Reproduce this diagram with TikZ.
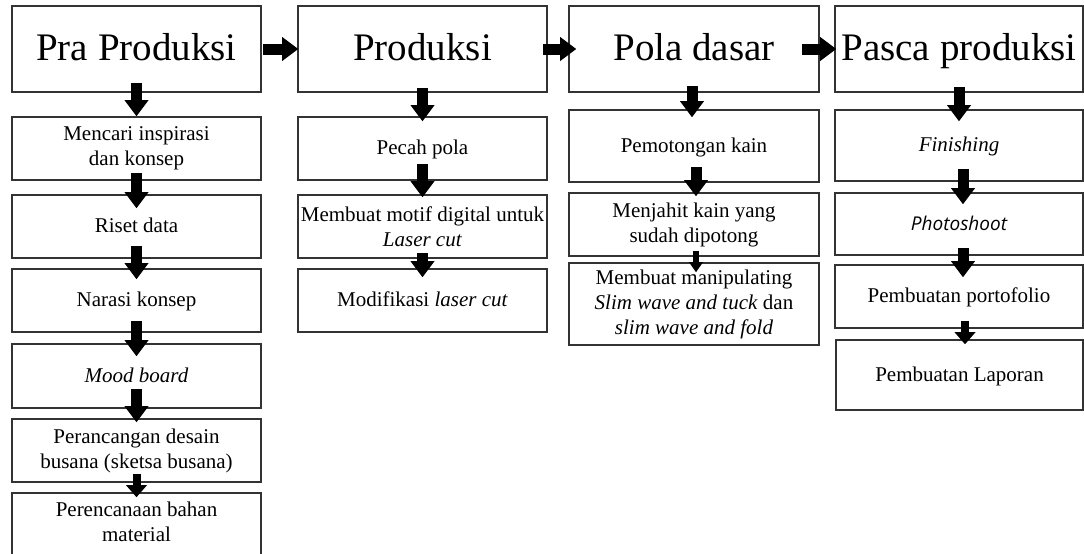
\documentclass[tikz,border=0pt]{standalone}
\usepackage{fontspec}
\setmainfont{Liberation Serif}
\newfontfamily\psans{Open Sans}
\usetikzlibrary{arrows.meta}
\begin{document}
\begin{tikzpicture}[x=1pt,y=-1pt,
  hd/.style={draw=black!80,line width=1.6pt,inner sep=0pt,text height=27pt,text depth=5pt,font=\fontsize{39}{44}\selectfont},
  sb/.style={draw=black!80,line width=1.6pt,inner sep=0pt,align=center,font=\fontsize{21}{25}\selectfont},
  one/.style={text height=15pt,text depth=3pt},
  tx/.style={inner sep=0pt,align=center,font=\fontsize{21}{25}\selectfont},
  barrow/.style={line width=11pt,-{Triangle[width=24pt,length=16pt,line width=0pt]}},
  marrow/.style={line width=8pt,-{Triangle[width=21pt,length=12pt,line width=0pt]}},
  sarrow/.style={line width=5.5pt,-{Triangle[width=14pt,length=10pt,line width=0pt]}}]
\useasboundingbox (0,0) rectangle (1084,554);
\fill[white] (0,0) rectangle (1084,554);
\clip (0,0) rectangle (1084,554);
% headers
\node[hd,minimum width=249,minimum height=86] (h1) at (136.5,49) {Pra Produksi};
\node[hd,minimum width=249,minimum height=86] (h2) at (422.5,49) {Produksi};
\node[hd,minimum width=250,minimum height=86] (h3) at (694,49) {Pola dasar};
\node[hd,minimum width=248,minimum height=86] (h4) at (959,49) {Pasca produksi};
% column 1
\node[sb,minimum width=249,minimum height=63] (c1b1) at (136.5,148.5) {Mencari inspirasi\\ dan konsep};
\node[sb,one,minimum width=249,minimum height=63] (c1b2) at (136.5,226.5) {Riset data};
\node[sb,one,minimum width=249,minimum height=63] (c1b3) at (136.5,300.5) {Narasi konsep};
\node[sb,one,minimum width=249,minimum height=64] (c1b4) at (136.5,376) {\textit{Mood board}};
\node[sb,minimum width=249,minimum height=63] (c1b5) at (136.5,450.5) {Perancangan desain\\busana (sketsa busana)};
\node[sb,minimum width=249,minimum height=100] (c1b6) at (136.5,543) {};
\node[tx] (c1b6t) at (136.5,522) {Perencanaan bahan\\material};
% column 2
\node[sb,one,minimum width=249,minimum height=63] (c2b1) at (422.5,148.5) {Pecah pola};
\node[sb,minimum width=249,minimum height=63] (c2b2) at (422.5,226.5) {Membuat motif digital untuk\\\textit{Laser cut}};
\node[sb,one,minimum width=249,minimum height=63] (c2b3) at (422.5,300.5) {Modifikasi \textit{laser cut}};
% column 3
\node[sb,one,minimum width=250,minimum height=72] (c3b1) at (694,146) {Pemotongan kain};
\node[sb,minimum width=250,minimum height=63] (c3b2) at (694,224.5) {Menjahit kain yang\\sudah dipotong};
\node[sb,minimum width=250,minimum height=82] (c3b3) at (694,304) {Membuat manipulating\\\textit{Slim wave and tuck} dan\\\textit{slim wave and fold}};
% column 4
\node[sb,one,minimum width=248,minimum height=71] (c4b1) at (959,145.5) {\textit{Finishing}};
\node[sb,one,minimum width=248,minimum height=62] (c4b2) at (959,224) {{\psans\itshape\fontsize{19}{22}\selectfont Photoshoot}};
\node[sb,one,minimum width=248,minimum height=63] (c4b3) at (959,296.5) {Pembuatan portofolio};
\node[sb,one,minimum width=247,minimum height=70] (c4b4) at (959.5,375) {Pembuatan Laporan};
% horizontal arrows
\draw[barrow] ([xshift=1pt]h1.east) -- ([xshift=1pt]h2.west);
\draw[barrow] ([xshift=-5pt]h2.east) -- ([xshift=8pt]h3.west);
\draw[barrow] ([xshift=-18pt]h3.east) -- ([xshift=2pt]h4.west);
% column 1 arrows
\draw[barrow] ([yshift=10pt]h1.south) -- (c1b1.north);
\draw[barrow] ([yshift=8pt]c1b1.south) -- ([yshift=-14pt]c1b2.north);
\draw[barrow] ([yshift=13pt]c1b2.south) -- ([yshift=-11pt]c1b3.north);
\draw[barrow] ([yshift=12pt]c1b3.south) -- ([yshift=-13pt]c1b4.north);
\draw[barrow] ([yshift=20pt]c1b4.south) -- ([yshift=-4pt]c1b5.north);
\draw[marrow] ([yshift=9pt]c1b5.south) -- ([yshift=-5pt]c1b6.north);
% column 2 arrows
\draw[barrow] ([yshift=5pt]h2.south) -- ([yshift=-5pt]c2b1.north);
\draw[barrow] ([yshift=17pt]c2b1.south) -- ([yshift=-3pt]c2b2.north);
\draw[barrow] ([yshift=6pt]c2b2.south) -- ([yshift=-9pt]c2b3.north);
% column 3 arrows
\draw[barrow] ([xshift=-2pt,yshift=7pt]h3.south) -- ([xshift=-2pt,yshift=-8pt]c3b1.north);
\draw[barrow] ([xshift=2pt,yshift=16pt]c3b1.south) -- ([xshift=2pt,yshift=-4pt]c3b2.north);
\draw[sarrow] ([xshift=2pt,yshift=6pt]c3b2.south) -- ([xshift=2pt,yshift=-10pt]c3b3.north);
% column 4 arrows
\draw[barrow] ([yshift=6pt]h4.south) -- ([yshift=-12pt]c4b1.north);
\draw[barrow] ([xshift=4pt,yshift=13pt]c4b1.south) -- ([xshift=4pt,yshift=-12pt]c4b2.north);
\draw[barrow] ([xshift=4pt,yshift=8pt]c4b2.south) -- ([xshift=4pt,yshift=-13pt]c4b3.north);
\draw[marrow] ([xshift=6pt,yshift=8pt]c4b3.south) -- ([xshift=5.5pt,yshift=-5pt]c4b4.north);
\end{tikzpicture}
\end{document}
